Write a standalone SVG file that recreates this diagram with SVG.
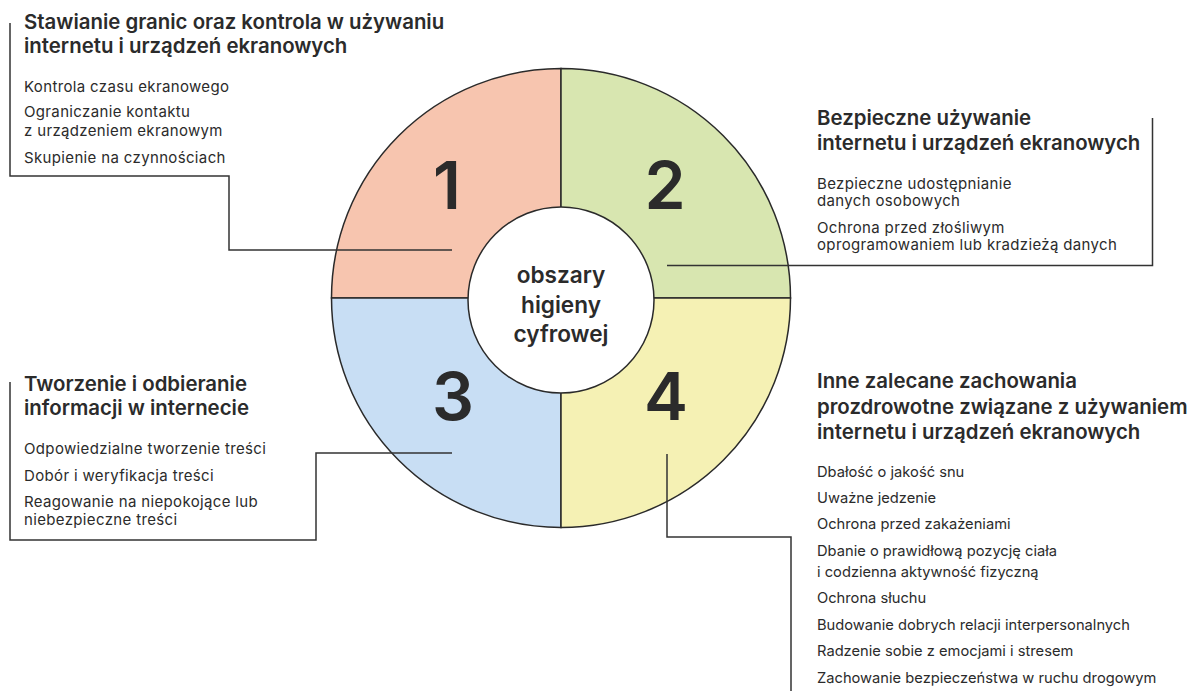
<svg xmlns="http://www.w3.org/2000/svg" width="1196" height="691" viewBox="0 0 1196 691">
<style>
.seg{stroke:#2a2a2a;stroke-width:1.5}
.conn{fill:none;stroke:#333;stroke-width:1.5}
.t{font-family:Inter,"Liberation Sans",sans-serif;fill:#2b2b2b}
.h{font-size:20.4px;font-weight:600}
.i{font-size:15px;font-weight:400;letter-spacing:0.35px}
.j{font-size:14.7px;font-weight:400}
.n{font-size:66px;font-weight:600;text-anchor:middle}
.c{font-size:22.6px;font-weight:600;text-anchor:middle}
</style>
<rect width="1196" height="691" fill="#fff"/>
<g id="wheel">
<g id="seg1"><path class="seg" d="M561,298 L331.5,298 A229.5,229.5 0 0 1 561,68.5 Z" fill="#F7C5AF"/><text class="t n" x="447" y="209">1</text></g>
<g id="seg2"><path class="seg" d="M561,298 L561,68.5 A229.5,229.5 0 0 1 790.5,298 Z" fill="#D8E6B0"/><text class="t n" x="665" y="209">2</text></g>
<g id="seg3"><path class="seg" d="M561,298 L331.5,298 A229.5,229.5 0 0 0 561,527.5 Z" fill="#C8DEF4"/><text class="t n" x="453" y="420">3</text></g>
<g id="seg4"><path class="seg" d="M561,298 L561,527.5 A229.5,229.5 0 0 0 790.5,298 Z" fill="#F5F1B4"/><text class="t n" x="666" y="420">4</text></g>
</g>
<g id="connectors">
<polyline class="conn" points="10,23 10,176 229,176 229,250 452,250"/>
<polyline class="conn" points="1152.5,118 1152.5,265.5 667,265.5"/>
<polyline class="conn" points="10,382 10,540 316,540 316,453 452,453"/>
<polyline class="conn" points="667,454 667,537 791,537 791,691"/>
</g>
<g id="center"><circle cx="561" cy="300" r="93" fill="#fff" stroke="#2a2a2a" stroke-width="1.5"/>
<text class="t c" x="561" y="283">obszary</text>
<text class="t c" x="561" y="313">higieny</text>
<text class="t c" x="561" y="342">cyfrowej</text>
</g>
<g id="block1">
<text class="t h" x="24" y="29">Stawianie granic oraz kontrola w używaniu</text>
<text class="t h" x="24" y="53">internetu i urządzeń ekranowych</text>
<text class="t i" x="24" y="92">Kontrola czasu ekranowego</text>
<text class="t i" x="24" y="117">Ograniczanie kontaktu</text>
<text class="t i" x="24" y="136">z urządzeniem ekranowym</text>
<text class="t i" x="24" y="163">Skupienie na czynnościach</text>
</g>
<g id="block2">
<text class="t h" x="817" y="125">Bezpieczne używanie</text>
<text class="t h" x="817" y="150">internetu i urządzeń ekranowych</text>
<text class="t i" x="817" y="189">Bezpieczne udostępnianie</text>
<text class="t i" x="817" y="206">danych osobowych</text>
<text class="t i" x="817" y="233">Ochrona przed złośliwym</text>
<text class="t i" x="817" y="250">oprogramowaniem lub kradzieżą danych</text>
</g>
<g id="block3">
<text class="t h" x="24" y="391">Tworzenie i odbieranie</text>
<text class="t h" x="24" y="415">informacji w internecie</text>
<text class="t i" x="24" y="454">Odpowiedzialne tworzenie treści</text>
<text class="t i" x="24" y="481">Dobór i weryfikacja treści</text>
<text class="t i" x="24" y="507">Reagowanie na niepokojące lub</text>
<text class="t i" x="24" y="525">niebezpieczne treści</text>
</g>
<g id="block4">
<text class="t h" x="817" y="388">Inne zalecane zachowania</text>
<text class="t h" x="817" y="414">prozdrowotne związane z używaniem</text>
<text class="t h" x="817" y="439">internetu i urządzeń ekranowych</text>
<text class="t j" x="817" y="477">Dbałość o jakość snu</text>
<text class="t j" x="817" y="503">Uważne jedzenie</text>
<text class="t j" x="817" y="529">Ochrona przed zakażeniami</text>
<text class="t j" x="817" y="556">Dbanie o prawidłową pozycję ciała</text>
<text class="t j" x="817" y="577">i codzienna aktywność fizyczną</text>
<text class="t j" x="817" y="603">Ochrona słuchu</text>
<text class="t j" x="817" y="630">Budowanie dobrych relacji interpersonalnych</text>
<text class="t j" x="817" y="656">Radzenie sobie z emocjami i stresem</text>
<text class="t j" x="817" y="683">Zachowanie bezpieczeństwa w ruchu drogowym</text>
</g>
</svg>
